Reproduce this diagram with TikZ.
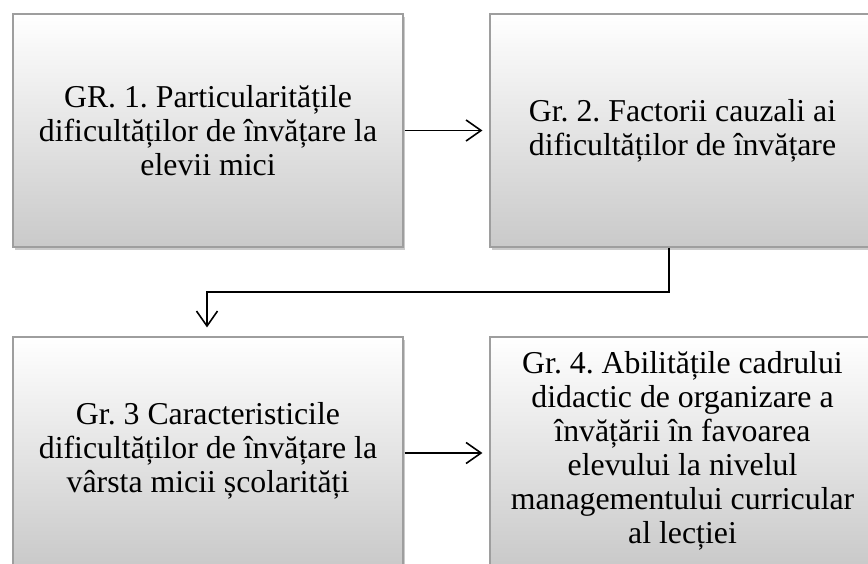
\documentclass[tikz,border=0pt]{standalone}
\usepackage{fontspec}
\setmainfont{Liberation Serif}
\usetikzlibrary{arrows.meta,shadows}
\frenchspacing
\begin{document}
\begin{tikzpicture}[x=1pt,y=-1pt,
  box/.style={rectangle, draw=black!38, line width=1.1pt,
    top color=white, bottom color=black!21,
    drop shadow={shadow xshift=1.5pt, shadow yshift=-3pt, opacity=0.35, fill=black!60},
    align=center, inner sep=0pt,
    font=\fontsize{31.8}{34}\selectfont},
  link/.style={line width=1.6pt, -{Straight Barb[length=15pt,width=21pt,line width=1.6pt]}}]
  \useasboundingbox (0,0) rectangle (868,564);
  \clip (0,0) rectangle (868,564);

  % four boxes
  \node[box, minimum width=390pt, minimum height=233pt] (b1) at (208,130.5)
    {GR. 1. Particularitățile\\dificultăților de învățare la\\elevii mici};
  \node[box, minimum width=385pt, minimum height=233pt] (b2) at (682.5,130.5)
    {Gr. 2. Factorii cauzali ai\\dificultăților de învățare};
  \node[box, minimum width=390pt, minimum height=228pt] (b3) at (208,451)
    {Gr. 3 Caracteristicile\\dificultăților de învățare la\\vârsta micii școlarități};
  \node[box, minimum width=385pt, minimum height=228pt] (b4) at (682.5,451)
    {Gr. 4. Abilitățile cadrului\\didactic de organizare a\\învățării în favoarea\\elevului la nivelul\\managementului curricular\\al lecției};

  % connectors
  \coordinate (elbow) at (207,292);
  \draw[link, shorten <=1pt, shorten >=7pt] (b1.east) -- (b2.west);
  \draw[link, shorten >=9pt] ([xshift=-13.5pt]b2.south) |- (elbow) -- (elbow |- b3.north);
  \draw[link, shorten <=1pt, shorten >=7pt] ([yshift=-2pt]b3.east) -- ([yshift=-2pt]b4.west);
\end{tikzpicture}
\end{document}
